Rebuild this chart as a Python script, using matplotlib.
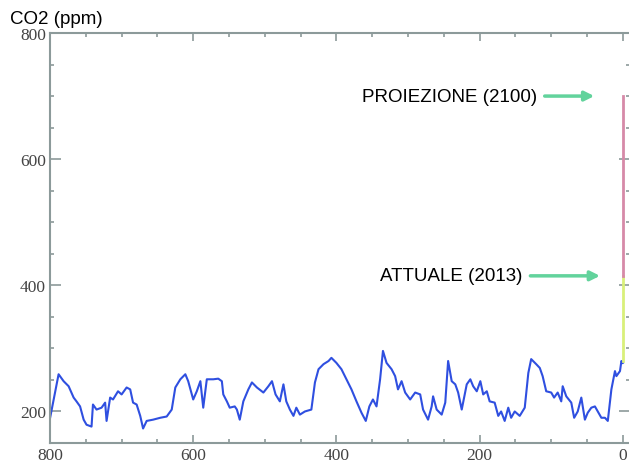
import matplotlib.pyplot as plt
import numpy as np

# migliaia di anni fa / CO2 (ppm)
anni = [800, 788, 781, 774, 767, 763, 758, 753, 749, 742, 740, 735, 728, 723, 721,
        716, 712, 705, 700, 693, 688, 684, 679, 674, 670, 665, 656, 646, 637, 630,
        625, 618, 611, 607, 600, 595, 590, 586, 581, 572, 565, 560, 558, 553, 549,
        542, 539, 535, 530, 523, 518, 511, 502, 495, 490, 485, 479, 474, 470, 465,
        460, 456, 451, 444, 435, 430, 425, 418, 411, 407, 400, 393, 386, 379, 372,
        365, 359, 354, 349, 344, 339, 335, 330, 323, 318, 314, 309, 304, 297, 290,
        283, 279, 272, 267, 265, 260, 253, 248, 244, 239, 234, 230, 225, 218, 213,
        209, 204, 199, 195, 190, 186, 179, 174, 170, 165, 160, 156, 151, 144, 137,
        132, 128, 121, 116, 112, 107, 100, 96, 91, 86, 84, 79, 72, 68, 63,
        58, 53, 49, 44, 39, 35, 30, 25, 21, 16, 11, 9, 4, 2, 0]
co2 = [189, 259, 248, 240, 222, 216, 208, 187, 179, 176, 211, 203, 206, 214, 185,
       222, 219, 232, 227, 238, 235, 214, 211, 193, 173, 185, 187, 190, 192, 203,
       238, 251, 259, 248, 219, 232, 248, 206, 251, 251, 252, 248, 227, 216, 206,
       208, 203, 187, 216, 235, 246, 238, 230, 240, 248, 227, 216, 243, 216, 203,
       193, 206, 195, 200, 203, 246, 267, 275, 280, 285, 277, 267, 251, 235, 216,
       198, 185, 208, 219, 208, 251, 296, 277, 267, 256, 235, 248, 230, 219, 230,
       227, 203, 187, 208, 224, 203, 195, 214, 280, 248, 243, 230, 203, 243, 251,
       240, 232, 248, 227, 232, 216, 214, 193, 200, 185, 206, 190, 200, 193, 206,
       261, 283, 275, 269, 256, 232, 230, 222, 230, 216, 240, 224, 214, 190, 200,
       222, 187, 198, 206, 208, 200, 190, 190, 185, 235, 264, 256, 264, 280, 277]

attuale = [280, 415]
proiezione = [415, 700]

grigio = '#8c9a9a'

fig = plt.figure(figsize=(6.29, 4.64), dpi=100)
ax = fig.add_axes([50 / 629, 20 / 464, 580 / 629, 410 / 464])

ax.plot(anni, co2, color='#2f4fe0', lw=1.5)
ax.plot([0, 0], attuale, color='#d9f07a', lw=2)
ax.plot([0, 0], proiezione, color='#d68aa8', lw=2)

ax.annotate('', xy=(36, 700), xytext=(113, 700),
            arrowprops=dict(arrowstyle='-|>', color='#62d39c', lw=2.5,
                            mutation_scale=14))
ax.annotate('', xy=(28, 415), xytext=(133, 415),
            arrowprops=dict(arrowstyle='-|>', color='#62d39c', lw=2.5,
                            mutation_scale=14))
ax.text(120, 700, 'PROIEZIONE (2100)', ha='right', va='center',
        family='Liberation Sans', fontsize=13.5)
ax.text(140, 415, 'ATTUALE (2013)', ha='right', va='center',
        family='Liberation Sans', fontsize=13.5)

ax.set_xlim(800, -10)
ax.set_ylim(150, 800)
ax.set_xticks([800, 600, 400, 200, 0])
ax.set_xticks(np.arange(0, 801, 50), minor=True)
ax.set_yticks([200, 400, 600, 800])
ax.set_yticks(np.arange(150, 801, 50), minor=True)

ax.tick_params(which='both', direction='in', colors=grigio, top=True, right=True,
               labelcolor='#444444', labelsize=12.5, width=1.2)
ax.tick_params(axis='x', which='major', length=6, pad=3)
ax.tick_params(axis='y', which='major', length=8, pad=3)
ax.tick_params(which='minor', length=3)
for lab in ax.get_xticklabels() + ax.get_yticklabels():
    lab.set_family('Liberation Serif')

for s in ['left', 'bottom', 'top']:
    ax.spines[s].set_color(grigio)
    ax.spines[s].set_linewidth(1.5)
ax.spines['right'].set_visible(False)

fig.text(10 / 629, 1 - 24 / 464, 'CO2 (ppm)', ha='left', va='baseline',
         family='Liberation Sans', fontsize=13.5)

fig.savefig('out.png', dpi=100)
